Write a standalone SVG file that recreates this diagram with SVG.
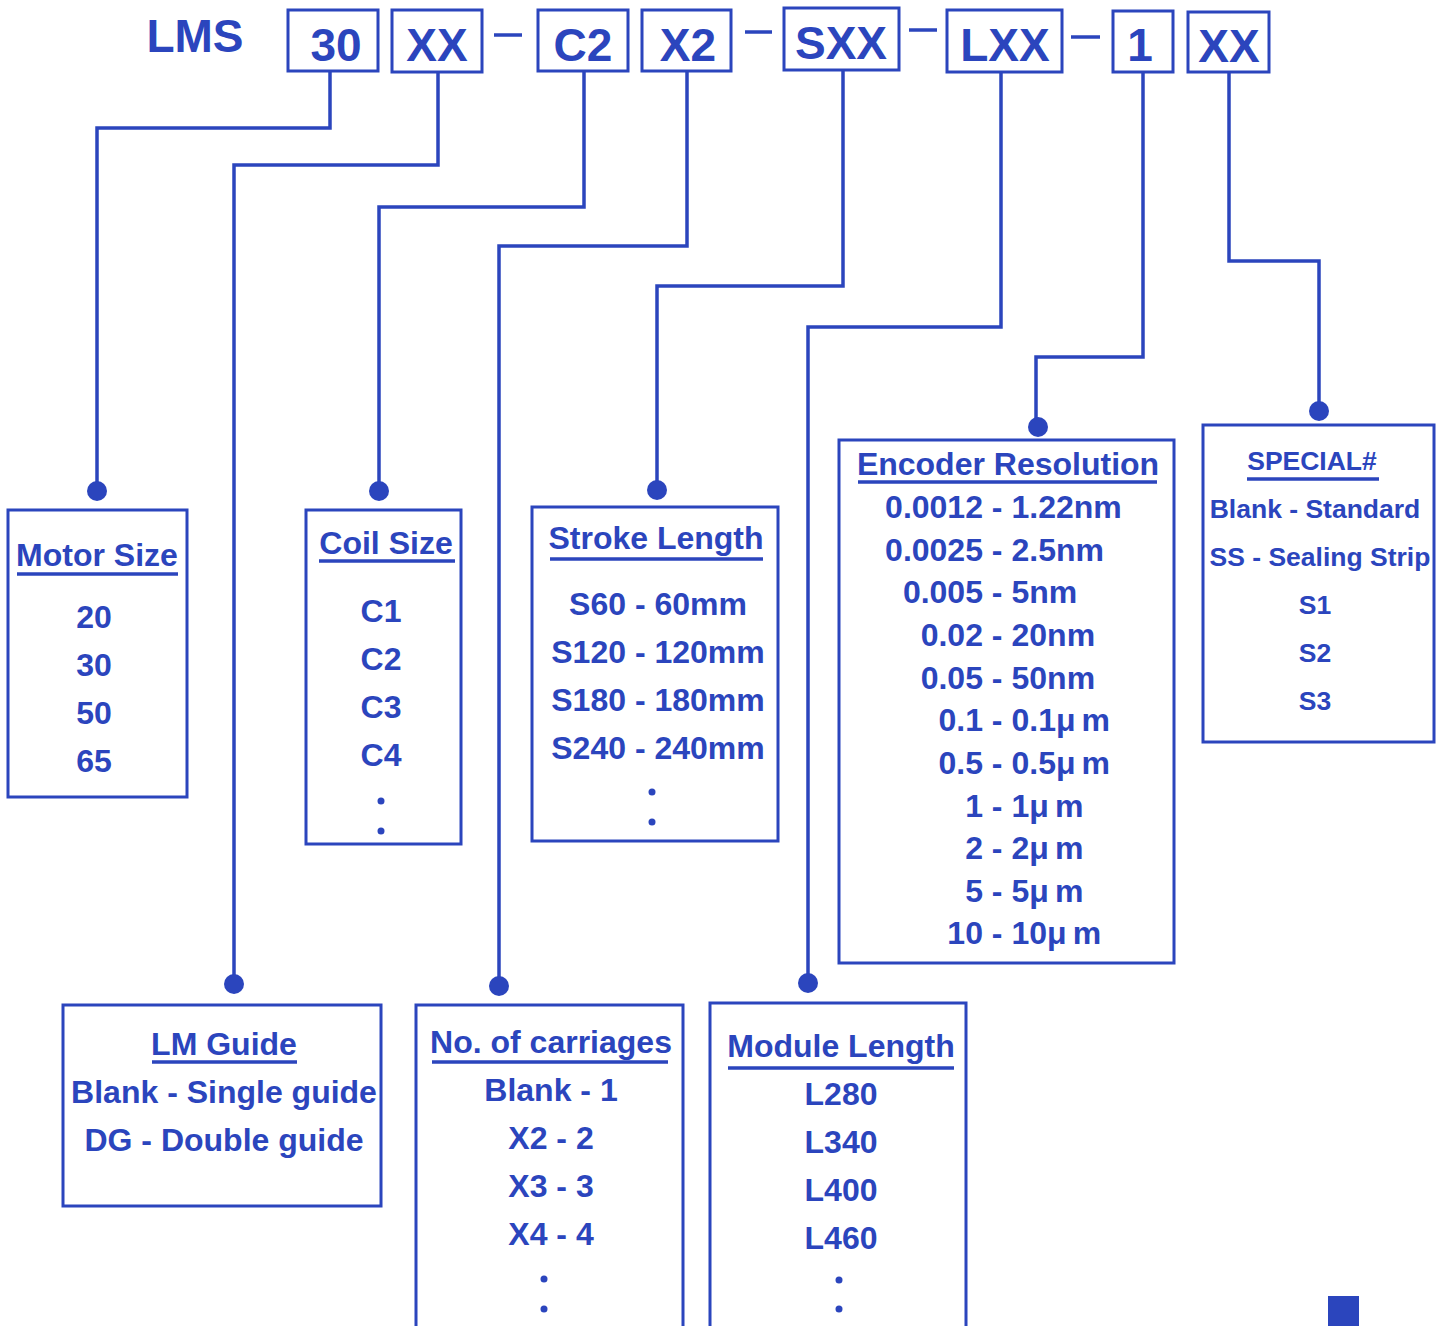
<svg xmlns="http://www.w3.org/2000/svg" width="1451" height="1326" viewBox="0 0 1451 1326">
<style>
text{font-family:"Liberation Sans",Arial,sans-serif;font-weight:bold;fill:#2b45bd}
.h{font-size:46px;text-anchor:middle}
.t{font-size:32px;text-anchor:middle}
.s{font-size:26.5px;text-anchor:middle}
.box{fill:none;stroke:#2b45bd;stroke-width:3}
.ul{stroke:#2b45bd;stroke-width:3.5}
.c{fill:none;stroke:#2b45bd;stroke-width:3.5}
.dot{fill:#2b45bd}
.e{font-size:32px}
</style>
<rect width="1451" height="1326" fill="#fff"/>
<g id="header">
<text x="195" y="52" class="h">LMS</text>
<rect class="box" x="288" y="10" width="90" height="61"/><text x="336" y="61" class="h">30</text>
<rect class="box" x="392" y="10" width="90" height="62"/><text x="437" y="61" class="h">XX</text>
<line class="ul" x1="494" y1="35" x2="522" y2="35"/>
<rect class="box" x="538" y="10" width="90" height="61"/><text x="583" y="61" class="h">C2</text>
<rect class="box" x="642" y="10" width="89" height="61"/><text x="688" y="61" class="h">X2</text>
<line class="ul" x1="745" y1="32" x2="772" y2="32"/>
<rect class="box" x="784" y="8" width="115" height="62"/><text x="841" y="59" class="h">SXX</text>
<line class="ul" x1="909" y1="30" x2="937" y2="30"/>
<rect class="box" x="947" y="10" width="115" height="62"/><text x="1005" y="61" class="h">LXX</text>
<line class="ul" x1="1071" y1="37" x2="1100" y2="37"/>
<rect class="box" x="1113" y="11" width="60" height="61"/><text x="1140" y="61" class="h">1</text>
<rect class="box" x="1188" y="12" width="81" height="60"/><text x="1229" y="62" class="h">XX</text>
</g>
<g id="connectors">
<polyline class="c" points="330,71 330,128 97,128 97,491"/>
<polyline class="c" points="438,72 438,165 234,165 234,984"/>
<polyline class="c" points="584,71 584,207 379,207 379,491"/>
<polyline class="c" points="687,71 687,246 499,246 499,986"/>
<polyline class="c" points="843,70 843,286 657,286 657,490"/>
<polyline class="c" points="1001,72 1001,327 808,327 808,983"/>
<polyline class="c" points="1143,72 1143,357 1036,357 1036,427"/>
<polyline class="c" points="1229,72 1229,261 1319,261 1319,411"/>
<circle class="dot" cx="97" cy="491" r="10"/>
<circle class="dot" cx="234" cy="984" r="10"/>
<circle class="dot" cx="379" cy="491" r="10"/>
<circle class="dot" cx="499" cy="986" r="10"/>
<circle class="dot" cx="657" cy="490" r="10"/>
<circle class="dot" cx="808" cy="983" r="10"/>
<circle class="dot" cx="1038" cy="427" r="10"/>
<circle class="dot" cx="1319" cy="411" r="10"/>
</g>
<g id="motor-size">
<rect class="box" x="8" y="510" width="179" height="287"/>
<text x="97" y="566" class="t">Motor Size</text>
<line class="ul" x1="17" y1="574" x2="178" y2="574"/>
<text x="94" y="628" class="t">20</text>
<text x="94" y="676" class="t">30</text>
<text x="94" y="724" class="t">50</text>
<text x="94" y="772" class="t">65</text>
</g>
<g id="coil-size">
<rect class="box" x="306" y="510" width="155" height="334"/>
<text x="386" y="554" class="t">Coil Size</text>
<line class="ul" x1="319" y1="561" x2="455" y2="561"/>
<text x="381" y="622" class="t">C1</text>
<text x="381" y="670" class="t">C2</text>
<text x="381" y="718" class="t">C3</text>
<text x="381" y="766" class="t">C4</text>
<circle class="dot" cx="381" cy="801" r="3.5"/>
<circle class="dot" cx="381" cy="831" r="3.5"/>
</g>
<g id="stroke-length">
<rect class="box" x="532" y="507" width="246" height="334"/>
<text x="656" y="549" class="t">Stroke Length</text>
<line class="ul" x1="550" y1="559" x2="763" y2="559"/>
<text x="658" y="615" class="t">S60 - 60mm</text>
<text x="658" y="663" class="t">S120 - 120mm</text>
<text x="658" y="711" class="t">S180 - 180mm</text>
<text x="658" y="759" class="t">S240 - 240mm</text>
<circle class="dot" cx="652" cy="792" r="3.5"/>
<circle class="dot" cx="652" cy="822" r="3.5"/>
</g>
<g id="encoder-resolution">
<rect class="box" x="839" y="440" width="335" height="523"/>
<text x="1008" y="475" class="t">Encoder Resolution</text>
<line class="ul" x1="858" y1="482" x2="1157" y2="482"/>
<text class="e" y="518"><tspan x="1002.5" text-anchor="end">0.0012 -</tspan><tspan x="1011.5">1.22nm</tspan></text>
<text class="e" y="561"><tspan x="1002.5" text-anchor="end">0.0025 -</tspan><tspan x="1011.5">2.5nm</tspan></text>
<text class="e" y="603"><tspan x="1002.5" text-anchor="end">0.005 -</tspan><tspan x="1011.5">5nm</tspan></text>
<text class="e" y="646"><tspan x="1002.5" text-anchor="end">0.02 -</tspan><tspan x="1011.5">20nm</tspan></text>
<text class="e" y="689"><tspan x="1002.5" text-anchor="end">0.05 -</tspan><tspan x="1011.5">50nm</tspan></text>
<text class="e" y="731"><tspan x="1002.5" text-anchor="end">0.1 -</tspan><tspan x="1011.5">0.1μ</tspan><tspan dx="6">m</tspan></text>
<text class="e" y="774"><tspan x="1002.5" text-anchor="end">0.5 -</tspan><tspan x="1011.5">0.5μ</tspan><tspan dx="6">m</tspan></text>
<text class="e" y="817"><tspan x="1002.5" text-anchor="end">1 -</tspan><tspan x="1011.5">1μ</tspan><tspan dx="6">m</tspan></text>
<text class="e" y="859"><tspan x="1002.5" text-anchor="end">2 -</tspan><tspan x="1011.5">2μ</tspan><tspan dx="6">m</tspan></text>
<text class="e" y="902"><tspan x="1002.5" text-anchor="end">5 -</tspan><tspan x="1011.5">5μ</tspan><tspan dx="6">m</tspan></text>
<text class="e" y="944"><tspan x="1002.5" text-anchor="end">10 -</tspan><tspan x="1011.5">10μ</tspan><tspan dx="6">m</tspan></text>
</g>
<g id="special">
<rect class="box" x="1203" y="425" width="231" height="317"/>
<text x="1312" y="470" class="s">SPECIAL#</text>
<line class="ul" x1="1247" y1="479" x2="1379" y2="479"/>
<text x="1315" y="518" class="s">Blank - Standard</text>
<text x="1320" y="566" class="s">SS - Sealing Strip</text>
<text x="1315" y="614" class="s">S1</text>
<text x="1315" y="662" class="s">S2</text>
<text x="1315" y="710" class="s">S3</text>
</g>
<g id="lm-guide">
<rect class="box" x="63" y="1005" width="318" height="201"/>
<text x="224" y="1055" class="t">LM Guide</text>
<line class="ul" x1="152" y1="1062" x2="297" y2="1062"/>
<text x="224" y="1103" class="t">Blank - Single guide</text>
<text x="224" y="1151" class="t">DG - Double guide</text>
</g>
<g id="carriages">
<polyline class="box" points="416,1330 416,1005 683,1005 683,1330"/>
<text x="551" y="1053" class="t">No. of carriages</text>
<line class="ul" x1="432" y1="1062" x2="668" y2="1062"/>
<text x="551" y="1101" class="t">Blank - 1</text>
<text x="551" y="1149" class="t">X2 - 2</text>
<text x="551" y="1197" class="t">X3 - 3</text>
<text x="551" y="1245" class="t">X4 - 4</text>
<circle class="dot" cx="544" cy="1279" r="3.5"/>
<circle class="dot" cx="544" cy="1309" r="3.5"/>
</g>
<g id="module-length">
<polyline class="box" points="710,1330 710,1003 966,1003 966,1330"/>
<text x="841" y="1057" class="t">Module Length</text>
<line class="ul" x1="728" y1="1068" x2="954" y2="1068"/>
<text x="841" y="1105" class="t">L280</text>
<text x="841" y="1153" class="t">L340</text>
<text x="841" y="1201" class="t">L400</text>
<text x="841" y="1249" class="t">L460</text>
<circle class="dot" cx="839" cy="1280" r="3.5"/>
<circle class="dot" cx="839" cy="1309" r="3.5"/>
</g>
<rect x="1328" y="1296" width="31" height="30" fill="#2b45bd"/>
</svg>
